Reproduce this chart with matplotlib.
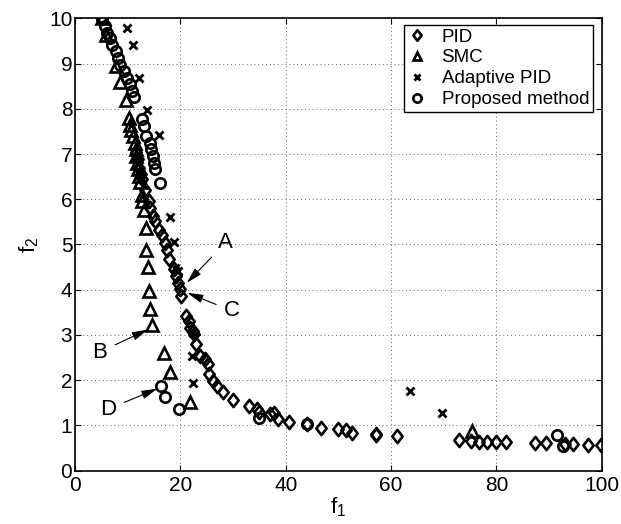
import matplotlib
matplotlib.use('Agg')
import matplotlib.pyplot as plt
from matplotlib.path import Path

plt.rcParams['font.family'] = ['Liberation Sans', 'DejaVu Sans']
plt.rcParams['mathtext.fontset'] = 'custom'
plt.rcParams['mathtext.rm'] = 'Liberation Sans'
plt.rcParams['mathtext.default'] = 'regular'

# PID front (f1, f2)
pid_f1 = [5.1, 11.6, 11.9, 12.2, 12.5, 12.7, 13.3, 14.0, 14.3, 14.8, 15.2, 15.9, 16.5,
          17.0, 17.5, 17.8, 18.75, 19.1, 19.5, 20.0, 20.1, 21.1, 21.6, 21.9, 22.4, 22.6,
          23.0, 23.75, 24.7, 25.3, 25.5, 26.25, 26.9, 28.0, 29.9, 33.0, 34.5, 35.0, 37.0,
          37.8, 38.6, 40.6, 44.0, 46.7, 50.0, 51.5, 52.6, 57.2, 57.2, 61.2, 72.8, 75.1,
          76.6, 78.2, 79.9, 81.8, 87.3, 89.4, 93.0, 94.6, 97.3, 99.8]
pid_f2 = [10.0, 7.05, 6.9, 6.7, 6.55, 6.45, 6.2, 5.96, 5.81, 5.64, 5.51, 5.33, 5.2,
          5.04, 4.87, 4.67, 4.45, 4.30, 4.15, 4.01, 3.87, 3.42, 3.31, 3.16, 3.09, 3.03,
          2.79, 2.53, 2.46, 2.35, 2.13, 1.98, 1.87, 1.74, 1.56, 1.43, 1.36, 1.30, 1.25,
          1.27, 1.15, 1.08, 1.03, 0.95, 0.92, 0.90, 0.84, 0.81, 0.78, 0.77, 0.67, 0.66,
          0.64, 0.64, 0.64, 0.64, 0.61, 0.61, 0.59, 0.59, 0.57, 0.57]

# SMC front
smc_f1 = [5.1, 5.8, 7.7, 8.6, 9.6, 10.2, 10.5, 10.65, 11.0, 11.3, 11.5, 11.5, 11.7, 12.0,
          12.1, 12.3, 12.7, 12.7, 13.0, 13.4, 13.5, 13.9, 14.0, 14.2, 14.6, 16.8, 18.1,
          21.8, 75.3]
smc_f2 = [10.0, 9.64, 8.94, 8.6, 8.2, 7.80, 7.65, 7.52, 7.39, 7.25, 7.10, 6.95, 6.80, 6.66,
          6.51, 6.38, 6.10, 5.96, 5.77, 5.37, 4.87, 4.51, 3.97, 3.58, 3.21, 2.61, 2.18,
          1.52, 0.88]

# Adaptive PID front
apid_f1 = [9.9, 11.0, 12.1, 13.7, 15.9, 18.1, 18.7, 19.0, 19.6, 22.4, 22.2, 22.4, 63.6, 69.6]
apid_f2 = [9.78, 9.40, 8.69, 7.98, 7.41, 5.61, 5.05, 4.49, 4.42, 3.05, 2.53, 1.93, 1.75, 1.27]

# Proposed method front
prop_f1 = [5.1, 5.6, 6.1, 6.6, 7.0, 7.7, 8.1, 8.6, 9.25, 9.9, 10.4, 10.8, 11.1, 12.7,
           13.0, 13.55, 14.2, 14.4, 14.8, 14.9, 15.2, 16.1, 16.3, 17.0, 19.8, 34.9, 44.0,
           91.5, 92.7]
prop_f2 = [9.99, 9.82, 9.67, 9.56, 9.42, 9.27, 9.12, 8.97, 8.83, 8.68, 8.55, 8.40, 8.25, 7.77,
           7.61, 7.39, 7.25, 7.10, 6.95, 6.80, 6.66, 6.35, 1.87, 1.62, 1.37, 1.17, 1.03,
           0.78, 0.55]

# annotation letters: (label, text pos, arrow tip)
notes = [('A', (28.6, 5.04), (21.2, 4.15)),
         ('C', (29.8, 3.53), (21.3, 3.93)),
         ('B', (4.7, 2.62), (13.8, 3.12)),
         ('D', (6.3, 1.36), (15.6, 1.81))]

# slightly tall diamond like the matlab one
diamond = Path([(0, 1), (0.78, 0), (0, -1), (-0.78, 0), (0, 1)], closed=True)

fig = plt.figure(figsize=(6.21, 5.24), dpi=100)
ax = fig.add_axes([0.121, 0.102, 0.848, 0.863])

ax.plot(pid_f1, pid_f2, linestyle='none', marker=diamond, markersize=9.5,
        mfc='none', mec='k', mew=1.9, label='PID')
ax.plot(smc_f1, smc_f2, linestyle='none', marker='^', markersize=8,
        mfc='none', mec='k', mew=1.9, label='SMC')
ax.plot(apid_f1, apid_f2, linestyle='none', marker='x', markersize=6,
        mfc='none', mec='k', mew=2.0, label='Adaptive PID')
ax.plot(prop_f1, prop_f2, linestyle='none', marker='o', markersize=7.5,
        mfc='none', mec='k', mew=1.9, label='Proposed method')

for lab, txt, tip in notes:
    ax.annotate(lab, xy=tip, xytext=txt, fontsize=16, ha='center', va='center',
                arrowprops=dict(arrowstyle='-|>,head_length=0.6,head_width=0.16',
                                color='k', lw=0.8, shrinkA=4, shrinkB=0))

ax.set_xlim(0, 100)
ax.set_ylim(0, 10)
ax.set_xticks(range(0, 101, 20))
ax.set_yticks(range(0, 11))
ax.tick_params(direction='in', length=4, width=0.8, labelsize=15,
               top=True, right=True, pad=2)
ax.tick_params(axis='x', pad=4)
ax.grid(True, color='0.4', linestyle=(0, (1, 3)), linewidth=0.7)
for s in ax.spines.values():
    s.set_linewidth(1.2)

ax.set_xlabel('f$_1$', fontsize=16, labelpad=0)
ax.set_ylabel('f$_2$', fontsize=16, labelpad=6)

leg = ax.legend(loc='upper right', bbox_to_anchor=(0.983, 0.986), borderaxespad=0,
                fontsize=13.5, handlelength=1.0, handletextpad=0.8, labelspacing=0.2,
                borderpad=0.2, fancybox=False, framealpha=1, markerscale=0.8)
leg.get_frame().set_edgecolor('k')
leg.get_frame().set_linewidth(1.0)

plt.savefig('out.png', dpi=100)
plt.close()
